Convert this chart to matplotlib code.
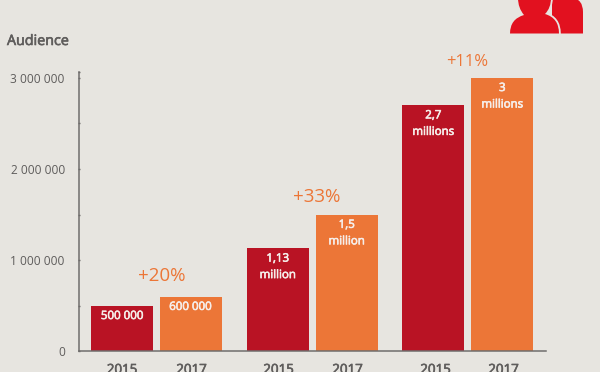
import matplotlib
matplotlib.use('Agg')
import matplotlib.pyplot as plt
import matplotlib.patheffects as pe
from matplotlib.patches import PathPatch
from matplotlib.path import Path

plt.rcParams['font.family'] = ['Open Sans', 'DejaVu Sans']

BG = '#e7e5e0'
RED = '#b91324'
ORANGE = '#ec7637'
GREY = '#5f5d5c'
AXIS = '#6f6d6c'
ICON = '#e2111f'
WHITE = '#f6eeea'

years = ['2015', '2017']
values_2015 = [500000, 1130000, 2700000]
values_2017 = [600000, 1500000, 3000000]
labels_2015 = ['500 000', '1,13\nmillion', '2,7\nmillions']
labels_2017 = ['600 000', '1,5\nmillion', '3\nmillions']
growth = ['+20%', '+33%', '+11%']
y_ticks = [0, 1000000, 2000000, 3000000]
y_ticklabels = ['0', '1 000 000', '2 000 000', '3 000 000']
y_minor = [500000, 1500000, 2500000, 3060000]


# bold faces come out condensed here, so thicken the regular one with a stroke
def thick(color, lw=0.45):
    return [pe.withStroke(linewidth=lw, foreground=color)]


W, H = 600, 372
fig = plt.figure(figsize=(W / 100, H / 100), dpi=100, facecolor=BG)

# axes box set from pixel positions of the axis lines, so x data is in pixels
left, right, bottom, top = 78.7, 546, 351.3, 72
ax = fig.add_axes([left / W, 1 - bottom / H, (right - left) / W, (bottom - top) / H])
ax.set_facecolor('none')
ax.set_xlim(left, right)
ax.set_ylim(0, (bottom - top) / 91.2 * 1e6)

x_2015 = [122.2, 277.8, 433.3]
x_2017 = [190.5, 346.7, 502.3]
bar_w = 62

ax.bar(x_2015, values_2015, width=bar_w, color=RED)
ax.bar(x_2017, values_2017, width=bar_w, color=ORANGE)

for x, v, txt in zip(x_2015 + x_2017, values_2015 + values_2017, labels_2015 + labels_2017):
    ax.annotate(txt, (x, v), xytext=(0, -2.4), textcoords='offset points', ha='center', va='top',
                color=WHITE, fontsize=8.3, linespacing=1.35, path_effects=thick(WHITE))

# percentages sit between the two bars of a group
growth_x = [162, 317, 467.5]
growth_dy = [8, 6, 5.5]
growth_size = [13.5, 13.5, 12]
for x, v, dy, size, txt in zip(growth_x, values_2017, growth_dy, growth_size, growth):
    ax.annotate(txt, (x, v), xytext=(0, dy), textcoords='offset points', ha='center', va='bottom',
                color=ORANGE, fontsize=size)

year_x = [122, 191.5, 278.5, 347.5, 435.5, 503.5]
for i, x in enumerate(year_x):
    fig.text(x / W, 1 - 370 / H, years[i % 2], ha='center', va='center',
             color=GREY, fontsize=9.6, path_effects=thick(GREY))

for s in ['top', 'right']:
    ax.spines[s].set_visible(False)
for s in ['left', 'bottom']:
    ax.spines[s].set_color(AXIS)
    ax.spines[s].set_linewidth(1.1)

ax.set_xticks([])
ax.set_yticks(y_ticks, y_ticklabels, fontsize=8.6, color=GREY)
ax.set_yticks(y_minor, minor=True)
ax.tick_params(axis='y', which='major', length=2, width=1, color=AXIS, direction='inout', pad=9)
ax.tick_params(axis='y', which='minor', length=2, width=1, color=AXIS, direction='inout')

fig.text(7 / W, 1 - 41.5 / H, 'Audience', ha='left', va='center', color=GREY, fontsize=10.3,
         path_effects=thick(GREY))

# people icon, cut off by the top edge
ic = fig.add_axes([0, 0, 1, 1])
ic.set_xlim(0, W)
ic.set_ylim(H, 0)
ic.axis('off')

M, L, C = Path.MOVETO, Path.LINETO, Path.CURVE3
back = Path([(563, 33.5), (552, 33.5), (552, -2), (572, -2), (583, -1), (583, 12), (583, 33.5), (563, 33.5)],
            [M, L, L, L, C, C, L, L])
front = Path([(510, 33.5), (510, 19), (524, 15), (518, 8), (518, -2), (551, -2), (551, 8), (545, 14),
              (559, 18), (559, 33.5), (510, 33.5)],
             [M, C, C, C, C, L, C, C, C, C, L])
ic.add_patch(PathPatch(back, fc=ICON, ec='none'))
ic.add_patch(PathPatch(front, fc=ICON, ec=BG, lw=2.6))
ic.add_patch(PathPatch(front, fc=ICON, ec='none'))

fig.savefig('out.png', dpi=100, facecolor=BG)
